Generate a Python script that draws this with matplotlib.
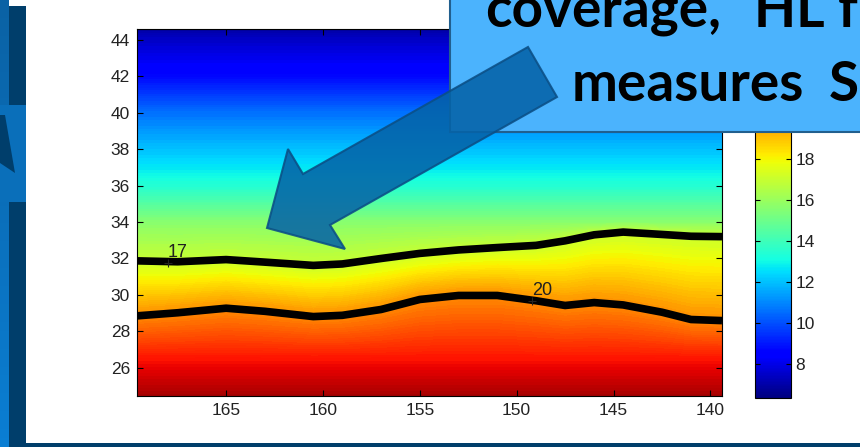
import numpy as np
import matplotlib
matplotlib.use("Agg")
import matplotlib.pyplot as plt
from matplotlib.patches import Rectangle, Polygon
from matplotlib.colors import Normalize, LinearSegmentedColormap
from matplotlib.cm import ScalarMappable

lons = [169.6, 167.5, 165, 163, 160.5, 159, 157, 155, 153, 151, 149,
        147.5, 146, 144.5, 142.5, 141, 139.4]
# latitude of the 17 and 20 isotherms
lat17 = [31.87, 31.82, 31.94, 31.8, 31.62, 31.7, 32.0, 32.28, 32.47, 32.6,
         32.72, 32.97, 33.3, 33.45, 33.32, 33.22, 33.2]
lat20 = [28.85, 29.02, 29.27, 29.1, 28.81, 28.88, 29.2, 29.75, 29.97, 29.97,
         29.68, 29.42, 29.58, 29.45, 29.05, 28.65, 28.59]

# fixed latitude rows and their values (south / north of the isotherms)
lats_south = [24.45, 26.5]
temp_south = [23.7, 22.3]
lats_north = [34, 36, 38, 40, 42, 44, 44.6]
temp_north = [15.6, 13.4, 12.0, 10.6, 8.7, 7.5, 6.9]

contour_levels = [17, 20]
label_lon = [168.0, 149.2]
label_lat = [31.75, 29.65]

xticks = [165, 160, 155, 150, 145, 140]
yticks = [26, 28, 30, 32, 34, 36, 38, 40, 42, 44]
cbar_ticks = [8, 10, 12, 14, 16, 18]
clim = (6.35, 24.3)

# curvilinear grid whose rows follow the isotherms
nlon = len(lons)
rows_lat = [[v] * nlon for v in lats_south] + [lat20, lat17] + \
           [[v] * nlon for v in lats_north]
rows_t = [[v] * nlon for v in temp_south] + \
         [[contour_levels[1]] * nlon, [contour_levels[0]] * nlon] + \
         [[v] * nlon for v in temp_north]
Y = np.array(rows_lat)
X = np.array([lons] * len(rows_lat))
T = np.array(rows_t)

plt.rcParams['font.family'] = ['Liberation Sans', 'DejaVu Sans']

fig = plt.figure(figsize=(8.6, 4.47), dpi=100)
fig.patch.set_facecolor('white')

W, H = 860.0, 447.0
ax = fig.add_axes([137 / W, (H - 396) / H, 585 / W, 367 / H])
norm = Normalize(*clim)
ax.contourf(X, Y, T, levels=np.linspace(clim[0], clim[1], 160),
            cmap='jet', norm=norm, extend='both')
ax.plot(lons, lat17, color='black', lw=5.5, solid_capstyle='butt')
ax.plot(lons, lat20, color='black', lw=5.5, solid_capstyle='butt')
for lv, lo, la in zip(contour_levels, label_lon, label_lat):
    ax.plot(lo, la, marker='+', color='#222222', ms=6, mew=0.8)
    ax.text(lo, la + 0.1, str(lv), fontsize=13, color='#202020',
            ha='left', va='bottom')

ax.set_xlim(169.6, 139.4)
ax.set_ylim(24.45, 44.6)
ax.set_xticks(xticks)
ax.set_yticks(yticks)
ax.tick_params(direction='in', top=True, right=True, length=4.5,
               width=0.8, labelsize=12.5, labelcolor='#222222', pad=5)
for s in ax.spines.values():
    s.set_linewidth(0.8)

cax = fig.add_axes([755 / W, (H - 398) / H, 36 / W, (398 - 29) / H])
cb = fig.colorbar(ScalarMappable(norm=norm, cmap='jet'), cax=cax)
cb.set_ticks(cbar_ticks)
cax.yaxis.set_ticks_position('both')
cax.tick_params(direction='in', length=3.5, width=0.8, labelsize=12.5,
                labelcolor='#222222', pad=3, labelleft=False, labelright=True)
cb.outline.set_linewidth(0.8)

# slide decoration drawn on top, in pixel coordinates
ov = fig.add_axes([0, 0, 1, 1], zorder=10)
ov.patch.set_alpha(0)
ov.axis('off')

side = LinearSegmentedColormap.from_list('side', ['#0a62a5', '#0a7ed3'])
ov.imshow(np.linspace(0, 1, 50).reshape(-1, 1), cmap=side, aspect='auto',
          extent=(0, 9, H, 0))
ov.add_patch(Rectangle((0, 105), 26, 97, color='#0a6fba', lw=0))
ov.add_patch(Rectangle((9, 6), 17, 99, color='#003e6b', lw=0))
ov.add_patch(Rectangle((9, 202), 17, 245, color='#003e6b', lw=0))
ov.add_patch(Polygon([(0, 115), (5, 115), (15, 173), (0, 163)],
                     closed=True, color='#003e6b', lw=0))
ov.add_patch(Rectangle((26, 443), W - 26, 4, color='#003e6b', lw=0))

ov.add_patch(Rectangle((450, -10), 430, 142, facecolor='#4bb3fd',
                       edgecolor='#215f8e', lw=1.5))
title_kw = dict(fontsize=39.5, fontweight='bold', family='Lato',
                color='black', va='baseline', ha='left')
ov.text(485, 27, "coverage,", **title_kw)
ov.text(754, 27, "HL fr", **title_kw)
ov.text(572, 101, "measures", **title_kw)
ov.text(829, 101, "S", **title_kw)

arrow = [(267, 228), (345, 249), (330, 225), (557, 97), (528, 47),
         (303, 174), (288, 149)]
ov.add_patch(Polygon(arrow, closed=True, facecolor='#0563a8', alpha=0.88,
                     edgecolor='#0b4f86', lw=1.5))

ov.set_xlim(0, W)
ov.set_ylim(H, 0)

fig.savefig('out.png', dpi=100)
